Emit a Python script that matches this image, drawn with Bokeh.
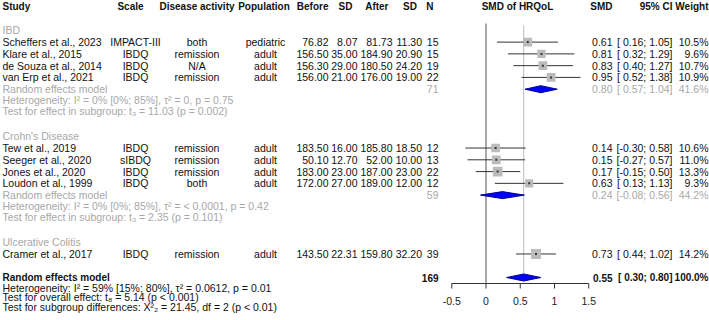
from bokeh.plotting import figure
from bokeh.models import ColumnDataSource, Range1d
from bokeh.core.properties import value
from bokeh.embed import file_html
from bokeh.resources import INLINE
import math

# ---- study data ----
studies = ["Scheffers et al., 2023", "Klare et al., 2015", "de Souza et al., 2014", "van Erp et al., 2021",
           "Tew et al., 2019", "Seeger et al., 2020", "Jones et al., 2020", "Loudon et al., 1999",
           "Cramer et al., 2017"]
scales = ["IMPACT-III", "IBDQ", "IBDQ", "IBDQ", "IBDQ", "sIBDQ", "IBDQ", "IBDQ", "IBDQ"]
activity = ["both", "remission", "N/A", "remission", "remission", "remission", "remission", "both", "remission"]
population = ["pediatric", "adult", "adult", "adult", "adult", "adult", "adult", "adult", "adult"]
mean_before = [76.82, 156.50, 156.30, 156.00, 183.50, 50.10, 183.00, 172.00, 143.50]
sd_before = [8.07, 35.00, 29.00, 21.00, 16.00, 12.70, 23.00, 27.00, 22.31]
mean_after = [81.73, 184.90, 180.50, 176.00, 185.80, 52.00, 187.00, 189.00, 159.80]
sd_after = [11.30, 20.90, 24.20, 19.00, 18.50, 10.00, 23.00, 12.00, 32.20]
n_patients = [15, 15, 19, 22, 12, 13, 22, 12, 39]
smd = [0.61, 0.81, 0.83, 0.95, 0.14, 0.15, 0.17, 0.63, 0.73]
ci_low = [0.16, 0.32, 0.40, 0.52, -0.30, -0.27, -0.15, 0.13, 0.44]
ci_high = [1.05, 1.29, 1.27, 1.38, 0.58, 0.57, 0.50, 1.13, 1.02]
weight = [10.5, 9.6, 10.7, 10.9, 10.6, 11.0, 13.3, 9.3, 14.2]

# ---- subgroup pooled results ----
subgroups = ["IBD", "Crohn's Disease", "Ulcerative Colitis"]
sub_n = [71, 59]
sub_smd = [0.80, 0.24]
sub_low = [0.57, -0.08]
sub_high = [1.04, 0.56]
sub_weight = [41.6, 44.2]
sub_het = ["Heterogeneity: I² = 0% [0%; 85%], τ² = 0, p = 0.75",
           "Heterogeneity: I² = 0% [0%; 85%], τ² = < 0.0001, p = 0.42"]
sub_test = ["Test for effect in subgroup: t₃ = 11.03 (p = 0.002)",
            "Test for effect in subgroup: t₃ = 2.35 (p = 0.101)"]

# ---- overall pooled result ----
overall_n = [169]
overall_smd = [0.55]
overall_low = [0.30]
overall_high = [0.80]
overall_weight = [100.0]
overall_stats = ["Heterogeneity: I² = 59% [15%; 80%], τ² = 0.0612, p = 0.01",
                 "Test for overall effect: t₈ = 5.14 (p < 0.001)",
                 "Test for subgroup differences: Χ²₂ = 21.45, df = 2 (p < 0.01)"]

tick_values = [-0.5, 0.0, 0.5, 1.0, 1.5]
tick_labels = ["-0.5", "0", "0.5", "1", "1.5"]

# ---- layout (y is measured in pixels from the top) ----
W, H = 709, 320
AXIS_Y = 283
ZERO_PX, PX_PER_UNIT = 485.5, 68.5
FONT = value("Liberation Sans")
BLACK, GRAY = "#111111", "#A8A8A8"


def row_y(r):
    return 6.3 + 11.77 * r


study_rows = [3, 4, 5, 6, 12, 13, 14, 15, 21]
label_rows = [2, 11, 20]
pooled_rows = [7, 16]
overall_row = 23

# right edges of the numeric columns
X_BEFORE, X_SD1, X_AFTER, X_SD2, X_N = 328, 357, 392, 421.5, 438
X_SMD, X_CI, X_W = 612, 672, 708

p = figure(width=W, height=H, x_range=Range1d(0, W), y_range=Range1d(H, 0),
           output_backend="svg", toolbar_location=None,
           x_axis_location=None, y_axis_location=None,
           min_border_left=0, min_border_right=0, min_border_top=0, min_border_bottom=0,
           outline_line_color=None, background_fill_color="white", border_fill_color="white")
p.xgrid.visible = False
p.ygrid.visible = False
p.extra_x_ranges = {"smd": Range1d(-ZERO_PX / PX_PER_UNIT, (W - ZERO_PX) / PX_PER_UNIT)}


def add_text(xs, ys, texts, align, color, bold=False, size="10.5px", range_name="default"):
    src = ColumnDataSource(dict(x=xs, y=ys, text=texts))
    p.text("x", "y", text="text", source=src, text_align=align, text_baseline="middle",
           text_font=FONT, text_font_size=size, text_color=color,
           text_font_style="bold" if bold else "normal", x_range_name=range_name)


def fmt_ci(lo, hi):
    return f"[{lo:5.2f}; {hi:4.2f}]"


# header row
hy = row_y(0)
add_text([2], [hy], ["Study"], "left", BLACK, True, "10px")
add_text([130, 196.5, 263.5, 517], [hy] * 4,
         ["Scale", "Disease activity", "Population", "SMD of HRQoL"], "center", BLACK, True, "10px")
add_text([X_BEFORE, X_SD1 - 5, X_AFTER - 4, X_SD2 - 5, X_N - 5, X_SMD, X_CI, X_W], [hy] * 8,
         ["Before", "SD", "After", "SD", "N", "SMD", "95% CI", "Weight"], "right", BLACK, True, "10px")

# subgroup labels
add_text([2] * 3, [row_y(r) for r in label_rows], subgroups, "left", GRAY)

# study rows
sy = [row_y(r) for r in study_rows]
add_text([2] * len(studies), sy, studies, "left", BLACK)
add_text([135] * len(sy), sy, scales, "center", BLACK)
add_text([196.5] * len(sy), sy, activity, "center", BLACK)
add_text([265] * len(sy), sy, population, "center", BLACK)
for xr, vals in [(X_BEFORE, mean_before), (X_SD1, sd_before), (X_AFTER, mean_after), (X_SD2, sd_after)]:
    add_text([xr] * len(sy), sy, [f"{v:.2f}" for v in vals], "right", BLACK)
add_text([X_N] * len(sy), sy, [str(v) for v in n_patients], "right", BLACK)
add_text([X_SMD] * len(sy), sy, [f"{v:.2f}" for v in smd], "right", BLACK)
add_text([X_CI] * len(sy), sy, [fmt_ci(a, b) for a, b in zip(ci_low, ci_high)], "right", BLACK)
add_text([X_W] * len(sy), sy, [f"{v:.1f}%" for v in weight], "right", BLACK)

# subgroup pooled rows
py = [row_y(r) for r in pooled_rows]
add_text([2] * 2, py, ["Random effects model"] * 2, "left", GRAY)
add_text([X_N] * 2, py, [str(v) for v in sub_n], "right", GRAY)
add_text([X_SMD] * 2, py, [f"{v:.2f}" for v in sub_smd], "right", GRAY)
add_text([X_CI] * 2, py, [fmt_ci(a, b) for a, b in zip(sub_low, sub_high)], "right", GRAY)
add_text([X_W] * 2, py, [f"{v:.1f}%" for v in sub_weight], "right", GRAY)
add_text([2] * 2, [y + 11 for y in py], sub_het, "left", GRAY)
add_text([2] * 2, [y + 21.5 for y in py], sub_test, "left", GRAY)

# overall row
oy = row_y(overall_row)
add_text([2], [oy], ["Random effects model"], "left", BLACK, True, "10px")
add_text([X_N], [oy], [str(v) for v in overall_n], "right", BLACK, True, "10px")
add_text([X_SMD], [oy], [f"{v:.2f}" for v in overall_smd], "right", BLACK, True, "10px")
add_text([X_CI], [oy], [fmt_ci(a, b) for a, b in zip(overall_low, overall_high)], "right", BLACK, True, "10px")
add_text([X_W], [oy], [f"{v:.1f}%" for v in overall_weight], "right", BLACK, True, "10px")

# overall statistics under the pooled row
add_text([2] * 3, [oy + 10, oy + 19.5, oy + 29], overall_stats, "left", BLACK)

# SMD axis: line spanning the tick range, downward ticks, labels
p.segment(x0=[tick_values[0]], y0=[AXIS_Y], x1=[tick_values[-1]], y1=[AXIS_Y], x_range_name="smd",
          line_color="#333333", line_width=1)
p.segment(x0=tick_values, y0=[AXIS_Y] * len(tick_values), x1=tick_values,
          y1=[AXIS_Y + 5] * len(tick_values), x_range_name="smd", line_color="#333333", line_width=1)
add_text(tick_values, [AXIS_Y + 17.5] * len(tick_values), tick_labels, "center", "#222222",
         range_name="smd")

# reference lines: no effect and pooled estimate
p.segment(x0=[0.0], y0=[23], x1=[0.0], y1=[AXIS_Y], x_range_name="smd",
          line_color="#555555", line_width=1)
p.segment(x0=overall_smd, y0=[25], x1=overall_smd, y1=[AXIS_Y - 6], x_range_name="smd",
          line_color="#BBBBBB", line_width=1)

# study confidence intervals and weighted squares
p.segment(x0=ci_low, y0=sy, x1=ci_high, y1=sy, x_range_name="smd", line_color="#333333", line_width=1)
sizes = [10.0 * math.sqrt(w / max(weight)) for w in weight]
p.scatter(x=smd, y=sy, size=sizes, marker="square", x_range_name="smd",
          fill_color="#BBBBBB", line_color=None)
p.scatter(x=smd, y=sy, size=2, marker="square", x_range_name="smd",
          fill_color="#333333", line_color=None)

# pooled diamonds
HALF = 3.5
d_est = sub_smd + overall_smd
d_lo = sub_low + overall_low
d_hi = sub_high + overall_high
d_y = py + [oy]
p.patches(xs=[[lo, e, hi, e] for lo, e, hi in zip(d_lo, d_est, d_hi)],
          ys=[[y, y - HALF, y, y + HALF] for y in d_y], x_range_name="smd",
          fill_color="#0000FF", line_color="#00008B", line_width=1)

open("out.html", "w").write(file_html(p, INLINE))
